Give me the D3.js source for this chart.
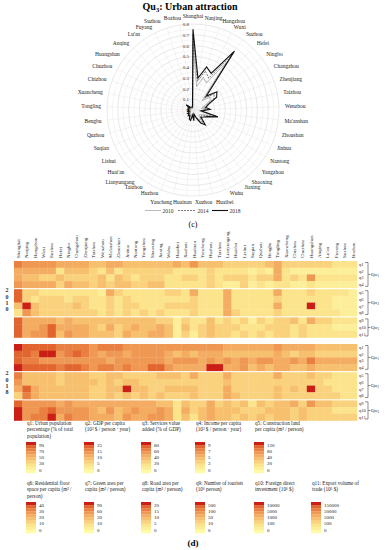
<!DOCTYPE html>
<html>
<head>
<meta charset="utf-8">
<script src="https://cdn.jsdelivr.net/npm/d3@7"></script>
<style>
body { margin: 0; background: #fff; }
svg { display: block; font-family: "Liberation Serif", "DejaVu Serif", serif; }
</style>
</head>
<body>
<svg id="chart" width="385" height="550"></svg>
<script>
// ---- data ----
const cities = ["Shanghai","Nanjing","Hangzhou","Wuxi","Suzhou","Hefei","Ningbo","Changzhou","Zhenjiang","Taizhou",
  "Wenzhou","Ma'anshan","Zhoushan","Jinhua","Nantong","Yangzhou","Shaoxing","Jiaxing","Wuhu","Huaibei",
  "Xuzhou","Huainan","Yancheng","Huzhou","Taizhou","Lianyungang","Huai'an","Lishui","Suqian","Quzhou",
  "Bengbu","Tongling","Xuancheng","Chizhou","Chuzhou","Huangshan","Anqing","Lu'an","Fuyang","Suzhou","Bozhou"];

const years = ["2010", "2014", "2018"];
const radar2010 = [0.62,0.22,0.32,0.28,0.55,0.12,0.20,0.18,0.11,0.08,0.12,0.06,0.18,0.11,0.08,0.07,0.12,0.10,0.06,0.03,
  0.07,0.03,0.06,0.06,0.04,0.05,0.03,0.04,0.02,0.03,0.02,0.03,0.02,0.03,0.02,0.05,0.02,0.02,0.02,0.02,0.02];
const radar2014 = [0.70,0.27,0.38,0.33,0.63,0.15,0.25,0.22,0.13,0.10,0.14,0.07,0.22,0.13,0.10,0.09,0.15,0.12,0.07,0.04,
  0.09,0.04,0.08,0.08,0.05,0.06,0.04,0.05,0.03,0.04,0.03,0.04,0.03,0.04,0.03,0.07,0.03,0.02,0.02,0.02,0.02];
const radar2018 = [0.75,0.30,0.42,0.38,0.67,0.18,0.28,0.25,0.15,0.12,0.16,0.08,0.24,0.15,0.12,0.10,0.18,0.14,0.08,0.04,
  0.10,0.05,0.10,0.09,0.06,0.07,0.05,0.06,0.04,0.05,0.04,0.05,0.04,0.05,0.04,0.08,0.04,0.03,0.03,0.03,0.03];
const radarTicks = [0, 0.1, 0.2, 0.3, 0.4, 0.5, 0.6, 0.7, 0.8];

const indicators = ["q1","q2","q3","q4","q5","q6","q7","q8","q9","q10","q11"];

// intensity level 0 (light) .. 9 (dark) per indicator row, one digit per city
const heat2010 = [
  "7666655554 4554444445 4644433333 4533333322 2",
  "5555524443 2423333332 2223222212 1521111111 1",
  "5443343333 4243233322 3323233323 3523262222 2",
  "6555535443 4344334422 2223211312 1221121111 1",
  "8332222222 1532222233 2522252222 2522232222 1",
  "8323332332 2323222222 2322252222 2322222211 1",
  "4943333432 2323322233 3322252222 2522292211 1",
  "2643333333 2323232322 2322253222 2322222221 1",
  "8555545444 4444444331 3224232313 2334253322 2",
  "8556855554 3534544541 4234333222 3332322211 1",
  "8566846554 4435445541 3134332323 2332322222 2"
];
const heat2018 = [
  "9888877776 7776666666 6666655555 5655554444 4",
  "8879967876 5665666654 5455544444 4543443333 3",
  "8776666666 6566666656 6656565656 6556575555 5",
  "9888878876 7767668865 5559955645 4554454444 4",
  "7444434443 3443333444 3533353333 3533343322 2",
  "6444434444 3434433333 3333343333 3333333222 2",
  "5854444443 3449443344 4433353333 3434393322 2",
  "3754444443 3434343433 3433354333 3433333332 2",
  "8666656555 5555555442 4335343424 3445364433 3",
  "9667866665 4645655652 5345444333 4443433322 2",
  "9677957665 5546556652 4245443434 3443433333 3"
];

const legendTitles = [
  ["q1: Urban population", "percentage (% of total", "population)"],
  ["q2: GDP per capita", "(10\u00b3 $ / person \u00b7 year)"],
  ["q3: Services value", "added (% of GDP)"],
  ["q4: Income per capita", "(10\u00b3 $ / person \u00b7 year)"],
  ["q5: Construction land", "per capita (m\u00b2 / person)"],
  ["q6: Residential floor", "space per capita (m\u00b2 /", "person)"],
  ["q7: Green area per", "capita (m\u00b2 / person)"],
  ["q8: Road area per", "capita (m\u00b2 / person)"],
  ["q9: Number of tourists", "(10\u2076 person)"],
  ["q10: Foreign direct", "investment (10\u2076 $)"],
  ["q11: Export volume of", "trade (10\u2076 $)"]
];
const legendTicks = [
  ["90","70","50","30","0"], ["25","15","10","5","0"], ["80","60","40","20","0"], ["9","7","5","3","0"],
  ["120","80","40","20","0"], ["40","30","20","10","0"], ["90","60","30","10","0"], ["20","15","10","5","0"],
  ["500","100","50","10","0"], ["10000","5000","1000","100","0"], ["150000","50000","5000","500","0"]
];

const svg = d3.select("#chart");

// ---- radar (c) ----
const cx = 193, cy = 110;
const r = d3.scaleLinear().domain([0, 0.8]).range([0, 86]);
const angle = d3.scaleLinear().domain([0, cities.length]).range([0, 2 * Math.PI]);

const radar = svg.append("g").attr("transform", "translate(" + cx + "," + cy + ")");

radar.selectAll("circle.minor")
  .data(d3.range(1, 17).map(d => d * 0.05))
  .enter().append("circle")
  .attr("r", d => r(d))
  .attr("fill", "none")
  .attr("stroke", (d, i) => i % 2 ? "#d9d9d9" : "#ececec")
  .attr("stroke-width", 0.6);

radar.selectAll("line.spoke")
  .data(cities)
  .enter().append("line")
  .attr("x1", 0).attr("y1", 0)
  .attr("x2", (d, i) => r(0.8) * Math.sin(angle(i)))
  .attr("y2", (d, i) => -r(0.8) * Math.cos(angle(i)))
  .attr("stroke", "#e6e6e6")
  .attr("stroke-width", 0.5);

radar.selectAll("text.tick")
  .data(radarTicks)
  .enter().append("text")
  .attr("x", -4)
  .attr("y", d => -r(d) + 2)
  .attr("text-anchor", "end")
  .attr("font-size", 5)
  .attr("fill", "#333")
  .text(d => d === 0 ? "0" : d.toFixed(1));

// city labels: top and bottom ones are centred and spread so they don't collide
radar.selectAll("text.city")
  .data(cities)
  .enter().append("text")
  .each(function (d, i) {
    const s = Math.sin(angle(i)), c = Math.cos(angle(i));
    const t = d3.select(this);
    if (c < -0.85) {
      const near = Math.abs(s) < 0.3;
      t.attr("x", 93 * s * (near ? 1.5 : 1.25))
        .attr("y", near ? 94 : -93 * c - 1)
        .attr("text-anchor", "middle");
    } else if (c > 0.9) {
      t.attr("x", 93 * s * 1.45).attr("y", -93 * c + (i === 0 ? 1 : 2)).attr("text-anchor", "middle");
    } else {
      t.attr("x", 92 * s).attr("y", -93 * c + 2)
        .attr("text-anchor", s > 0 ? "start" : "end");
    }
  })
  .attr("font-size", 5.5)
  .attr("fill", "#222")
  .text(d => d);

const radial = d3.lineRadial()
  .angle((d, i) => angle(i))
  .radius(d => r(d))
  .curve(d3.curveLinearClosed);

const styles = [
  { stroke: "#8a8a8a", width: 0.6, dash: null },
  { stroke: "#444", width: 0.7, dash: "2,1" },
  { stroke: "#111", width: 1.1, dash: null }
];
[radar2010, radar2014, radar2018].forEach((vals, k) => {
  radar.append("path")
    .attr("d", radial(vals))
    .attr("fill", "none")
    .attr("stroke", styles[k].stroke)
    .attr("stroke-width", styles[k].width)
    .attr("stroke-dasharray", styles[k].dash);
});

svg.append("text")
  .attr("x", 190).attr("y", 10)
  .attr("text-anchor", "middle")
  .attr("font-size", 10)
  .attr("font-weight", "bold")
  .text("Qu")
  .append("tspan").attr("font-size", 6.5).attr("dy", 2).text("3")
  .append("tspan").attr("font-size", 10).attr("dy", -2).text(": Urban attraction");

// radar legend
const lg = svg.append("g").attr("font-size", 5.5).attr("fill", "#333");
[[145, 161], [178, 196], [212, 228]].forEach((p, k) => {
  lg.append("line")
    .attr("x1", p[0]).attr("x2", p[1]).attr("y1", 210.5).attr("y2", 210.5)
    .attr("stroke", styles[k].stroke)
    .attr("stroke-width", styles[k].width)
    .attr("stroke-dasharray", styles[k].dash);
  lg.append("text").attr("x", p[1] + 1.5).attr("y", 212.5).text(years[k]);
});

svg.append("text").attr("x", 193).attr("y", 227).attr("text-anchor", "middle")
  .attr("font-size", 8).text("(c)");

// ---- heatmap (d) ----
const color = d3.scaleLinear()
  .domain([0, 2, 4, 6, 8, 9])
  .range(["#fefaa6", "#fce48c", "#f7c06e", "#ef9853", "#e2652f", "#cb1e16"]);

const x = d3.scaleBand().domain(d3.range(cities.length)).range([14, 357]);
const rowH = 6.7, gap = 1.4;
const groupOf = i => i < 4 ? 0 : (i < 8 ? 1 : 2);
const rowY = (top, i) => top + i * rowH + groupOf(i) * gap;

svg.append("g").selectAll("text")
  .data(cities)
  .enter().append("text")
  .attr("transform", (d, i) => "translate(" + (x(i) + x.bandwidth() / 2 + 1.7) + ",258) rotate(-90)")
  .attr("font-size", 5)
  .attr("fill", "#222")
  .text(d => d);

function heatBlock(rows, top, year) {
  const g = svg.append("g");
  rows.forEach((row, i) => {
    const vals = row.replace(/ /g, "").split("").map(Number);
    g.selectAll(null)
      .data(vals)
      .enter().append("rect")
      .attr("x", (d, j) => x(j))
      .attr("y", rowY(top, i))
      .attr("width", x.bandwidth() + 0.3)
      .attr("height", rowH + 0.3)
      .attr("fill", d => color(d));
    g.append("text")
      .attr("x", 359).attr("y", rowY(top, i) + rowH / 2 + 1.6)
      .attr("font-size", 4.6).attr("fill", "#333")
      .text(indicators[i]);
  });
  // brackets
  [[0, 3], [4, 7], [8, 10]].forEach((gr, k) => {
    const y0 = rowY(top, gr[0]) + 1.5, y1 = rowY(top, gr[1]) + rowH - 1.5, ym = (y0 + y1) / 2;
    g.append("path")
      .attr("d", "M365," + y0 + "H368V" + y1 + "H365M368," + ym + "H370.5")
      .attr("fill", "none").attr("stroke", "#444").attr("stroke-width", 0.6);
    g.append("text").attr("x", 371).attr("y", ym + 1.8)
      .attr("font-size", 5).attr("fill", "#333")
      .text("Qu").append("tspan").attr("font-size", 3.5).attr("dy", 1).text(k + 1);
  });
  const mid = (rowY(top, 0) + rowY(top, 10) + rowH) / 2;
  year.split("").forEach((c, k) => {
    g.append("text").attr("x", 7).attr("y", mid - 9 + k * 6.3 + 2)
      .attr("text-anchor", "middle").attr("font-size", 6).attr("font-weight", "bold")
      .attr("fill", "#333").text(c);
  });
}
heatBlock(heat2010, 261, "2010");
heatBlock(heat2018, 344, "2018");

// ---- colour legends ----
const legX = [27, 85, 142, 196, 255, 27, 85, 142, 196, 255, 312];
const legTop = [425, 425, 425, 425, 425, 485, 485, 485, 485, 485, 485];
const steps = d3.range(9, -1, -1);
const stepY = d3.scaleBand().domain(steps).range([0, 31]);

legendTitles.forEach((lines, k) => {
  const g = svg.append("g").attr("transform", "translate(" + legX[k] + "," + legTop[k] + ")");
  lines.forEach((t, j) => {
    g.append("text").attr("x", 0).attr("y", j * 6.3)
      .attr("font-size", 5.2).attr("fill", "#222").text(t);
  });
  const by = 17;
  g.selectAll("rect")
    .data(steps)
    .enter().append("rect")
    .attr("x", -1).attr("y", d => by + stepY(d))
    .attr("width", 10).attr("height", stepY.bandwidth() + 0.2)
    .attr("fill", d => color(d));
  g.selectAll("text.tk")
    .data(legendTicks[k])
    .enter().append("text")
    .attr("x", 12).attr("y", (d, j) => by + 4.5 + j * 6.3)
    .attr("font-size", 5).attr("fill", "#222")
    .text(d => d);
});

svg.append("text").attr("x", 193).attr("y", 546).attr("text-anchor", "middle")
  .attr("font-size", 9).attr("font-weight", "bold").text("(d)");
</script>
</body>
</html>
